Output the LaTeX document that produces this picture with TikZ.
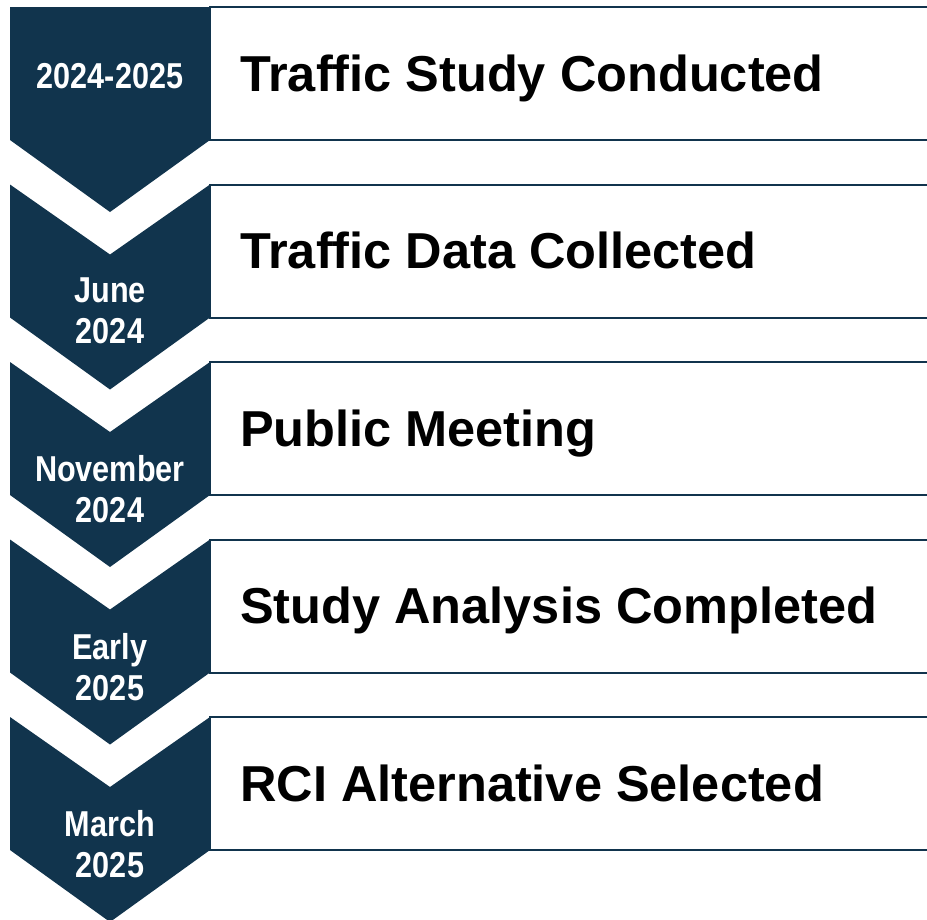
\documentclass[tikz,border=0pt]{standalone}
\usepackage{fontspec}
\setmainfont{Liberation Sans}
\newfontfamily\datefont[FakeStretch=0.85]{Liberation Sans}
\definecolor{navy}{RGB}{17,52,77}
\tikzset{
  chev/.style={fill=navy, draw=none},
  stepbox/.style={draw=navy, line width=2pt, fill=white},
  title/.style={anchor=base west, inner sep=0pt, text=black, font=\fontsize{50.5}{60}\selectfont\bfseries},
  datelbl/.style={anchor=base, inner sep=0pt, text=white, font=\datefont\fontsize{36}{41}\selectfont\bfseries}
}
\begin{document}
\begin{tikzpicture}[x=1pt,y=-1pt]
\useasboundingbox (0,0) rectangle (927,919);
\clip (0,0) rectangle (927,919);
% first chevron (flat top)
\fill[chev] (10,7) -- (210,7) -- (210,140) -- (110,212) -- (10,140) -- cycle;
\foreach \i in {1,...,4}{
  \pgfmathsetmacro\T{7+177.5*\i}
  \pgfmathsetmacro\B{\T+133}
  \fill[chev] (10,\T) -- (110,\T+70) -- (210,\T) -- (210,\B) -- (110,\B+72) -- (10,\B) -- cycle;
}
\foreach \i in {0,...,4}{
  \pgfmathsetmacro\T{7+177.5*\i}
  \pgfmathsetmacro\B{\T+133}
  \draw[stepbox] (210,\T) rectangle (945,\B);
}
% titles
\node[title] (t1) at (240,91) {Traffic Study Conducted};
\node[title] (t2) at (240,268.5) {Traffic Data Collected};
\node[title] (t3) at (240,446) {Public Meeting};
\node[title] (t4) at (240,623.5) {Study Analysis Completed};
\node[title] (t5) at (240,801) {RCI Alternative Selected};
% dates
\node[datelbl] (d1) at (110,88) {2024-2025};
\node[datelbl] (d2a) at (110,302) {June};
\node[datelbl] (d2b) at (110,343) {2024};
\node[datelbl] (d3a) at (110,481) {November};
\node[datelbl] (d3b) at (110,522) {2024};
\node[datelbl] (d4a) at (110,659) {Early};
\node[datelbl] (d4b) at (110,700) {2025};
\node[datelbl] (d5a) at (110,836) {March};
\node[datelbl] (d5b) at (110,877) {2025};
\end{tikzpicture}
\end{document}
